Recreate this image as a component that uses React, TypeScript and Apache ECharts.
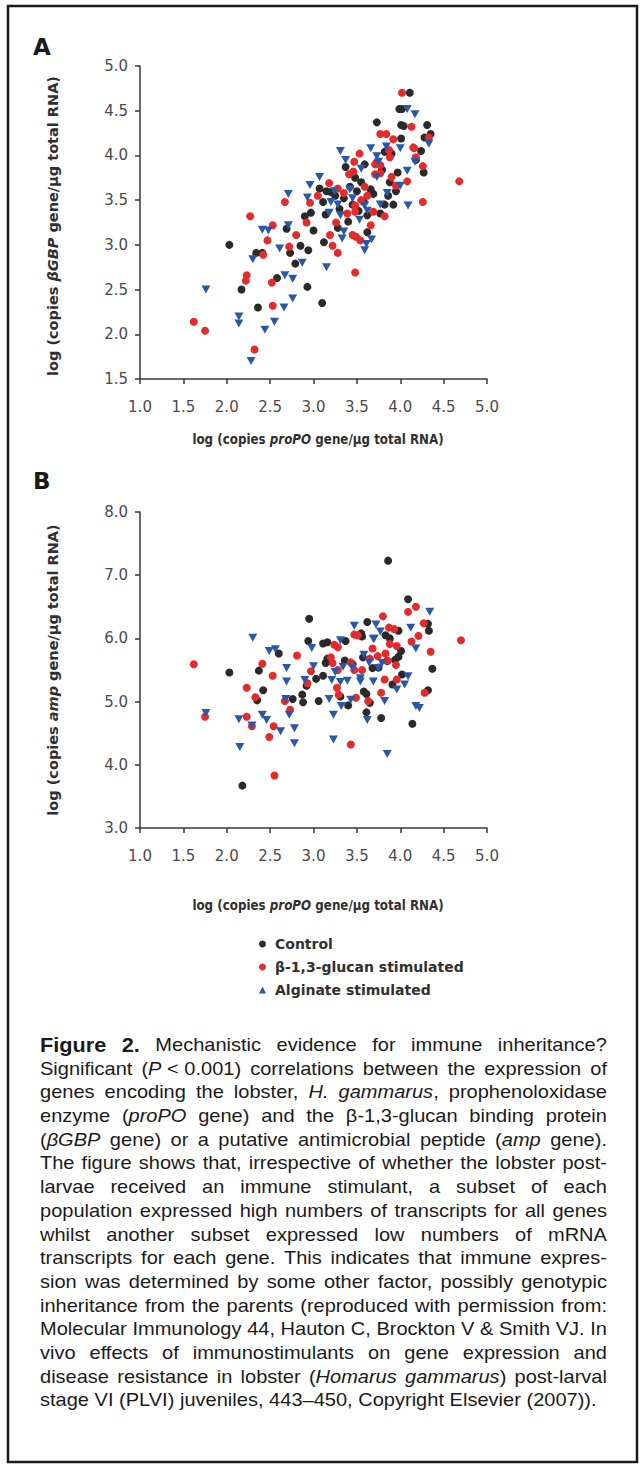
import React, { useEffect, useRef } from "react";
import * as echarts from "echarts";

type Pt = [number, number];

// ---------- Panel A: log proPO (x) vs log βGBP (y) ----------
const controlA: Pt[] = [
  [2.03, 3.0], [2.34, 2.91], [2.41, 2.91], [2.17, 2.5], [2.36, 2.3], [2.58, 2.63], [2.73, 2.91], [2.69, 3.18],
  [2.79, 2.79], [2.85, 2.99], [2.94, 2.94], [2.93, 2.53], [2.9, 3.32], [2.97, 3.36], [3.0, 3.16], [3.1, 2.35],
  [3.12, 3.03], [3.14, 3.34], [3.11, 3.48], [3.28, 3.19], [3.4, 3.26], [3.62, 3.14], [3.62, 3.33], [3.77, 3.35],
  [3.82, 3.45], [3.73, 4.37], [3.99, 4.52], [4.02, 4.52], [4.11, 4.7], [4.01, 4.34], [4.04, 4.33], [4.31, 4.34],
  [4.35, 4.24], [4.28, 4.2], [4.01, 4.19], [4.24, 4.05], [3.82, 4.04], [3.9, 4.02], [3.59, 3.9], [3.73, 3.92],
  [3.37, 3.87], [3.97, 3.81], [4.27, 3.81], [3.55, 3.7], [3.79, 3.84], [3.07, 3.63], [3.2, 3.59], [3.69, 3.57],
  [3.86, 3.55], [3.42, 3.65], [3.25, 3.55], [3.35, 3.52], [3.5, 3.6], [3.58, 3.48], [3.45, 3.45], [3.3, 3.4],
  [3.66, 3.62], [3.95, 3.6], [3.15, 3.6], [3.52, 3.38], [3.88, 3.7], [3.48, 3.75], [3.92, 3.45], [4.18, 3.95],
];
const glucanA: Pt[] = [
  [1.62, 2.14], [1.75, 2.04], [2.32, 1.83], [2.22, 2.6], [2.23, 2.66], [2.27, 3.32], [2.42, 2.89], [2.47, 3.05],
  [2.53, 3.22], [2.52, 2.58], [2.53, 2.32], [2.72, 2.98], [2.8, 3.11], [2.92, 3.25], [2.67, 3.48], [2.96, 3.47],
  [3.19, 3.11], [3.22, 2.99], [3.28, 2.91], [3.26, 3.25], [3.39, 3.35], [3.45, 3.11], [3.49, 3.09], [3.54, 3.05],
  [3.48, 2.69], [3.48, 3.37], [3.66, 3.22], [3.69, 3.37], [3.82, 3.32], [3.48, 3.44], [4.26, 3.48], [4.02, 4.7],
  [4.13, 4.32], [3.77, 4.24], [3.84, 4.24], [4.33, 4.2], [3.92, 4.18], [4.15, 4.09], [3.87, 4.06], [3.53, 4.02],
  [4.16, 4.08], [4.18, 3.98], [4.26, 3.88], [3.88, 3.98], [3.47, 3.93], [3.71, 3.9], [3.77, 3.89], [3.71, 3.79],
  [3.46, 3.82], [3.77, 3.8], [4.68, 3.71], [4.08, 3.71], [3.18, 3.69], [3.28, 3.63], [3.41, 3.79], [3.59, 3.65],
  [3.95, 3.66], [3.9, 3.76], [3.35, 3.58], [3.62, 3.55], [3.05, 3.55], [3.55, 3.5],
];
const alginateA: Pt[] = [
  [1.76, 2.5], [2.14, 2.2], [2.14, 2.12], [2.28, 1.7], [2.3, 2.84], [2.41, 3.17], [2.48, 3.16], [2.44, 2.05],
  [2.55, 2.14], [2.61, 2.96], [2.67, 2.66], [2.76, 2.62], [2.66, 2.3], [2.76, 2.4], [2.71, 3.22], [2.87, 2.8],
  [3.15, 2.75], [3.18, 3.36], [3.2, 3.48], [3.31, 3.33], [3.33, 3.07], [3.35, 3.15], [3.59, 2.94], [3.61, 3.01],
  [3.67, 3.06], [3.59, 3.44], [3.77, 3.45], [4.09, 3.44], [3.53, 3.28], [3.62, 3.38], [4.08, 4.52], [4.17, 4.46],
  [4.33, 4.13], [3.66, 4.08], [3.84, 4.1], [4.0, 4.08], [3.31, 4.05], [3.73, 3.99], [3.75, 3.93], [4.17, 3.93],
  [4.08, 3.83], [3.55, 3.85], [3.37, 3.95], [3.07, 3.76], [3.73, 3.76], [4.0, 3.66], [2.96, 3.67], [2.71, 3.57],
  [2.93, 3.53], [3.24, 3.6], [3.42, 3.62], [3.45, 3.52], [3.28, 3.45], [3.85, 3.58],
];

// ---------- Panel B: log proPO (x) vs log amp (y) ----------
const controlB: Pt[] = [
  [3.86, 7.23], [4.09, 6.62], [2.95, 6.31], [3.62, 6.26], [4.32, 6.23], [3.98, 6.12], [4.33, 6.12], [2.94, 5.96],
  [3.11, 5.92], [3.16, 5.94], [3.37, 5.96], [2.6, 5.76], [3.56, 6.03], [4.01, 5.8], [3.83, 6.05], [3.55, 6.08],
  [3.88, 6.0], [2.03, 5.46], [2.37, 5.49], [2.42, 5.18], [2.35, 5.02], [2.18, 3.67], [2.76, 5.04], [2.87, 5.11],
  [2.88, 4.99], [2.92, 5.25], [3.03, 5.36], [3.06, 5.01], [3.11, 5.41], [3.14, 5.61], [3.16, 5.68], [3.31, 5.08],
  [3.4, 4.94], [3.45, 5.59], [3.58, 5.16], [3.61, 4.83], [3.65, 4.98], [3.68, 5.53], [3.78, 4.74], [3.91, 5.27],
  [4.02, 5.43], [4.14, 4.65], [4.32, 5.18], [4.37, 5.52], [3.85, 5.64], [3.36, 5.65], [3.57, 5.7], [3.75, 5.54],
  [3.94, 5.66], [3.98, 5.71], [3.61, 5.12],
];
const glucanB: Pt[] = [
  [4.09, 6.42], [4.18, 6.5], [3.8, 6.35], [4.7, 5.97], [3.87, 6.17], [4.27, 6.24], [3.93, 6.15], [3.24, 5.9],
  [2.81, 5.73], [3.47, 6.06], [4.13, 5.95], [4.21, 6.04], [4.35, 5.79], [3.68, 5.84], [3.88, 5.91], [3.96, 5.88],
  [1.62, 5.59], [2.41, 5.6], [2.53, 5.41], [2.23, 5.22], [2.33, 5.07], [1.75, 4.76], [2.23, 4.76], [2.29, 4.61],
  [2.49, 4.44], [2.54, 4.61], [2.55, 3.83], [2.67, 5.01], [2.73, 4.87], [2.97, 5.48], [2.93, 5.29], [3.27, 5.22],
  [3.29, 5.11], [3.43, 4.32], [3.49, 5.06], [3.63, 5.01], [3.78, 5.14], [3.82, 5.35], [3.96, 5.35], [4.28, 5.14],
  [3.2, 5.7], [3.28, 5.86], [3.22, 5.61], [3.28, 5.5], [3.43, 5.62], [3.47, 5.5], [3.65, 5.68], [3.56, 5.5],
  [3.74, 5.72], [3.83, 5.76], [3.85, 5.65], [3.95, 5.58], [3.51, 6.05],
];
const alginateB: Pt[] = [
  [4.34, 6.42], [2.3, 6.01], [3.47, 6.2], [3.72, 6.22], [2.49, 5.8], [2.56, 5.83], [2.98, 5.85], [3.69, 5.99],
  [4.12, 6.17], [4.18, 5.84], [3.77, 6.11], [3.7, 6.0], [3.31, 5.97], [1.76, 4.82], [2.14, 4.72], [2.15, 4.28],
  [2.29, 4.62], [2.41, 4.79], [2.46, 4.71], [2.62, 4.53], [2.69, 5.32], [2.69, 5.53], [2.68, 5.04], [2.72, 4.79],
  [2.78, 4.58], [2.78, 4.34], [3.0, 5.56], [3.18, 5.04], [3.23, 4.79], [3.23, 4.4], [3.32, 4.93], [3.31, 5.31],
  [3.43, 5.03], [3.54, 5.32], [3.62, 4.71], [3.69, 5.32], [3.75, 5.53], [3.82, 5.01], [3.85, 4.17], [3.96, 5.19],
  [4.05, 5.27], [4.09, 5.4], [4.18, 4.93], [4.22, 4.9], [2.9, 5.34], [3.21, 5.34], [3.25, 5.47], [3.34, 5.55],
  [3.45, 5.54], [3.39, 5.33], [3.58, 5.74], [3.64, 5.62], [3.54, 5.37], [3.79, 5.61],
];

const seriesNames = ["Control", "β-1,3-glucan stimulated", "Alginate stimulated"];
const seriesColors = ["#2a2a2a", "#e52a2c", "#2a58a8"];

const captionLines: string[] = [
  "*Figure 2.* Mechanistic evidence for immune inheritance?",
  "Significant (_P_~<~0.001) correlations between the expression of",
  "genes encoding the lobster, _H. gammarus_, prophenoloxidase",
  "enzyme (_proPO_ gene) and the β-1,3-glucan binding protein",
  "(_βGBP_ gene) or a putative antimicrobial peptide (_amp_ gene).",
  "The figure shows that, irrespective of whether the lobster post-",
  "larvae received an immune stimulant, a subset of each",
  "population expressed high numbers of transcripts for all genes",
  "whilst another subset expressed low numbers of mRNA",
  "transcripts for each gene. This indicates that immune expres-",
  "sion was determined by some other factor, possibly genotypic",
  "inheritance from the parents (reproduced with permission from:",
  "Molecular Immunology 44, Hauton C, Brockton V & Smith VJ. In",
  "vivo effects of immunostimulants on gene expression and",
  "disease resistance in lobster (_Homarus gammarus_) post-larval",
  "stage VI (PLVI) juveniles, 443–450, Copyright Elsevier (2007)).",
];

const TICK_FONT = "DejaVu Sans";
const TITLE_FONT = "DejaVu Sans";
const CAP_FONT = '"Liberation Sans", Arial, sans-serif';

type Seg = { t: string; i: boolean; b: boolean };

function parseLine(line: string): Seg[][] {
  const tokens: Seg[][] = [];
  let italic = false;
  let bold = false;
  let cur = "";
  let token: Seg[] = [];
  const flush = () => {
    if (cur) token.push({ t: cur, i: italic, b: bold });
    cur = "";
  };
  for (const ch of line) {
    if (ch === "_") { flush(); italic = !italic; }
    else if (ch === "*") { flush(); bold = !bold; }
    else if (ch === "~") { cur += " "; }
    else if (ch === " ") { flush(); if (token.length) tokens.push(token); token = []; }
    else cur += ch;
  }
  flush();
  if (token.length) tokens.push(token);
  return tokens;
}

function buildCaption(): any[] {
  const size = 18;
  const boldSize = 19.5;
  const left = 40;
  const W = 567;
  const top = 1045;
  const lh = 23.67;
  const ctx = document.createElement("canvas").getContext("2d")!;
  const fontOf = (s: Seg) =>
    s.b ? `bold ${boldSize}px ${CAP_FONT}` : `${s.i ? "italic " : ""}${size}px ${CAP_FONT}`;
  const measure = (s: Seg) => { ctx.font = fontOf(s); return ctx.measureText(s.t).width; };
  ctx.font = `${size}px ${CAP_FONT}`;
  const sp = ctx.measureText(" ").width;
  const parsed = captionLines.map(parseLine);
  const widths = parsed.map((toks) => toks.map((tk) => tk.reduce((a, s) => a + measure(s), 0)));
  let sx = 10;
  widths.forEach((ws, li) => {
    if (li === widths.length - 1) return;
    const nat = ws.reduce((a, b) => a + b, 0) + (ws.length - 1) * sp;
    sx = Math.min(sx, W / nat);
  });
  const els: any[] = [];
  parsed.forEach((toks, li) => {
    const ws = widths[li];
    const sum = ws.reduce((a, b) => a + b, 0) * sx;
    const last = li === parsed.length - 1;
    const gap = last ? sp * sx : (W - sum) / Math.max(1, toks.length - 1);
    let x = left;
    toks.forEach((tk, ti) => {
      const text = tk.map((s) => `{${s.b ? "b" : s.i ? "i" : "n"}|${s.t}}`).join("");
      els.push({
        type: "text",
        x,
        y: top + li * lh,
        scaleX: sx,
        silent: true,
        style: {
          text,
          x: 0,
          y: 0,
          verticalAlign: "middle",
          align: "left",
          fill: "#1a1a1a",
          fontFamily: CAP_FONT,
          fontSize: size,
          rich: {
            n: { fontFamily: CAP_FONT, fontSize: size, fill: "#1a1a1a" } as any,
            i: { fontFamily: CAP_FONT, fontSize: size, fontStyle: "italic", fill: "#1a1a1a" } as any,
            b: { fontFamily: CAP_FONT, fontSize: boldSize, fontWeight: "bold", fill: "#1a1a1a" } as any,
          },
        },
      });
      x += ws[ti] * sx + gap;
    });
  });
  return els;
}

function buildOption(): any {
  const axisLine = { show: true, lineStyle: { color: "#383838", width: 1.5 } };
  const axisTick = { show: true, inside: false, length: 5, lineStyle: { color: "#383838", width: 1.5 } };
  const axisLabel = {
    color: "#4a4a4a",
    fontFamily: TICK_FONT,
    fontSize: 15,
    formatter: (v: number) => v.toFixed(1),
  };
  const xAxisBase = (gi: number) => ({
    type: "value",
    gridIndex: gi,
    min: 1,
    max: 5,
    interval: 0.5,
    axisLine,
    axisTick,
    axisLabel: { ...axisLabel, margin: 20 },
    splitLine: { show: false },
  });
  const yAxisBase = (gi: number, min: number, max: number, interval: number) => ({
    type: "value",
    gridIndex: gi,
    min,
    max,
    interval,
    axisLine,
    axisTick,
    axisLabel: { ...axisLabel, margin: 12 },
    splitLine: { show: false },
  });
  const groups = [
    [controlA, glucanA, alginateA],
    [controlB, glucanB, alginateB],
  ];
  const series: any[] = [];
  groups.forEach((g, gi) => {
    g.forEach((data, si) => {
      series.push({
        type: "scatter",
        name: seriesNames[si],
        xAxisIndex: gi,
        yAxisIndex: gi,
        data,
        symbol: si === 2 ? "triangle" : "circle",
        symbolRotate: si === 2 ? 180 : 0,
        symbolSize: si === 2 ? [9, 8] : 8,
        itemStyle: { color: seriesColors[si], opacity: 1 },
        emphasis: { disabled: true },
        silent: true,
      });
    });
  });

  const titleRich = {
    n: { fontFamily: TITLE_FONT, fontSize: 14.5, fontWeight: "bold", fill: "#303030" } as any,
    i: { fontFamily: TITLE_FONT, fontSize: 14.5, fontWeight: "bold", fontStyle: "italic", fill: "#303030" } as any,
  };
  const yTitle = (x: number, y: number, pre: string, it: string, post: string) => ({
    type: "text",
    x,
    y,
    rotation: Math.PI / 2,
    silent: true,
    style: {
      text: `{n|${pre}}{i|${it}}{n|${post}}`,
      align: "center",
      verticalAlign: "middle",
      rich: titleRich,
    },
  });
  const xTitle = (x: number, y: number) => ({
    type: "text",
    x,
    y,
    scaleX: 0.82,
    silent: true,
    style: {
      text: "{n|log (copies }{i|proPO}{n| gene/μg total RNA)}",
      x: 0,
      y: 0,
      align: "center",
      verticalAlign: "middle",
      rich: titleRich,
    },
  });

  const graphic: any[] = [
    {
      type: "rect",
      silent: true,
      shape: { x: 8, y: 6, width: 629, height: 1456 },
      style: { fill: "none", stroke: "#1a1a1a", lineWidth: 2.5 },
    },
    {
      type: "text", x: 33, y: 47, silent: true,
      style: { text: "A", fontFamily: TITLE_FONT, fontWeight: "bold", fontSize: 23, fill: "#1a1a1a", verticalAlign: "middle" },
    },
    {
      type: "text", x: 33, y: 481, silent: true,
      style: { text: "B", fontFamily: TITLE_FONT, fontWeight: "bold", fontSize: 23, fill: "#1a1a1a", verticalAlign: "middle" },
    },
    yTitle(53, 226, "log (copies ", "βGBP", " gene/μg total RNA)"),
    yTitle(53, 670, "log (copies ", "amp", " gene/μg total RNA)"),
    xTitle(318, 439),
    xTitle(318, 905),
    ...buildCaption(),
  ];

  return {
    animation: false,
    backgroundColor: "#ffffff",
    grid: [
      { left: 140, top: 66, width: 347, height: 313 },
      { left: 140, top: 512, width: 347, height: 316 },
    ],
    xAxis: [xAxisBase(0), xAxisBase(1)],
    yAxis: [yAxisBase(0, 1.5, 5, 0.5), yAxisBase(1, 3, 8, 1)],
    legend: {
      orient: "vertical",
      left: 254,
      top: 932,
      itemWidth: 7,
      itemHeight: 7,
      itemGap: 9,
      symbolRotate: 180,
      selectedMode: false,
      data: seriesNames,
      textStyle: {
        fontFamily: TITLE_FONT,
        fontSize: 14,
        fontWeight: "bold",
        color: "#303030",
        lineHeight: 14,
        padding: [0, 0, 0, 4],
      },
    },
    series,
    graphic,
  };
}

export default function App() {
  const ref = useRef<HTMLDivElement>(null);
  useEffect(() => {
    if (!ref.current) return;
    const chart = echarts.init(ref.current, null, { renderer: "svg" });
    chart.setOption(buildOption());
    return () => chart.dispose();
  }, []);
  return (
    <div
      ref={ref}
      style={{ position: "absolute", left: 0, top: 0, width: 644, height: 1469, background: "#fff" }}
    />
  );
}
